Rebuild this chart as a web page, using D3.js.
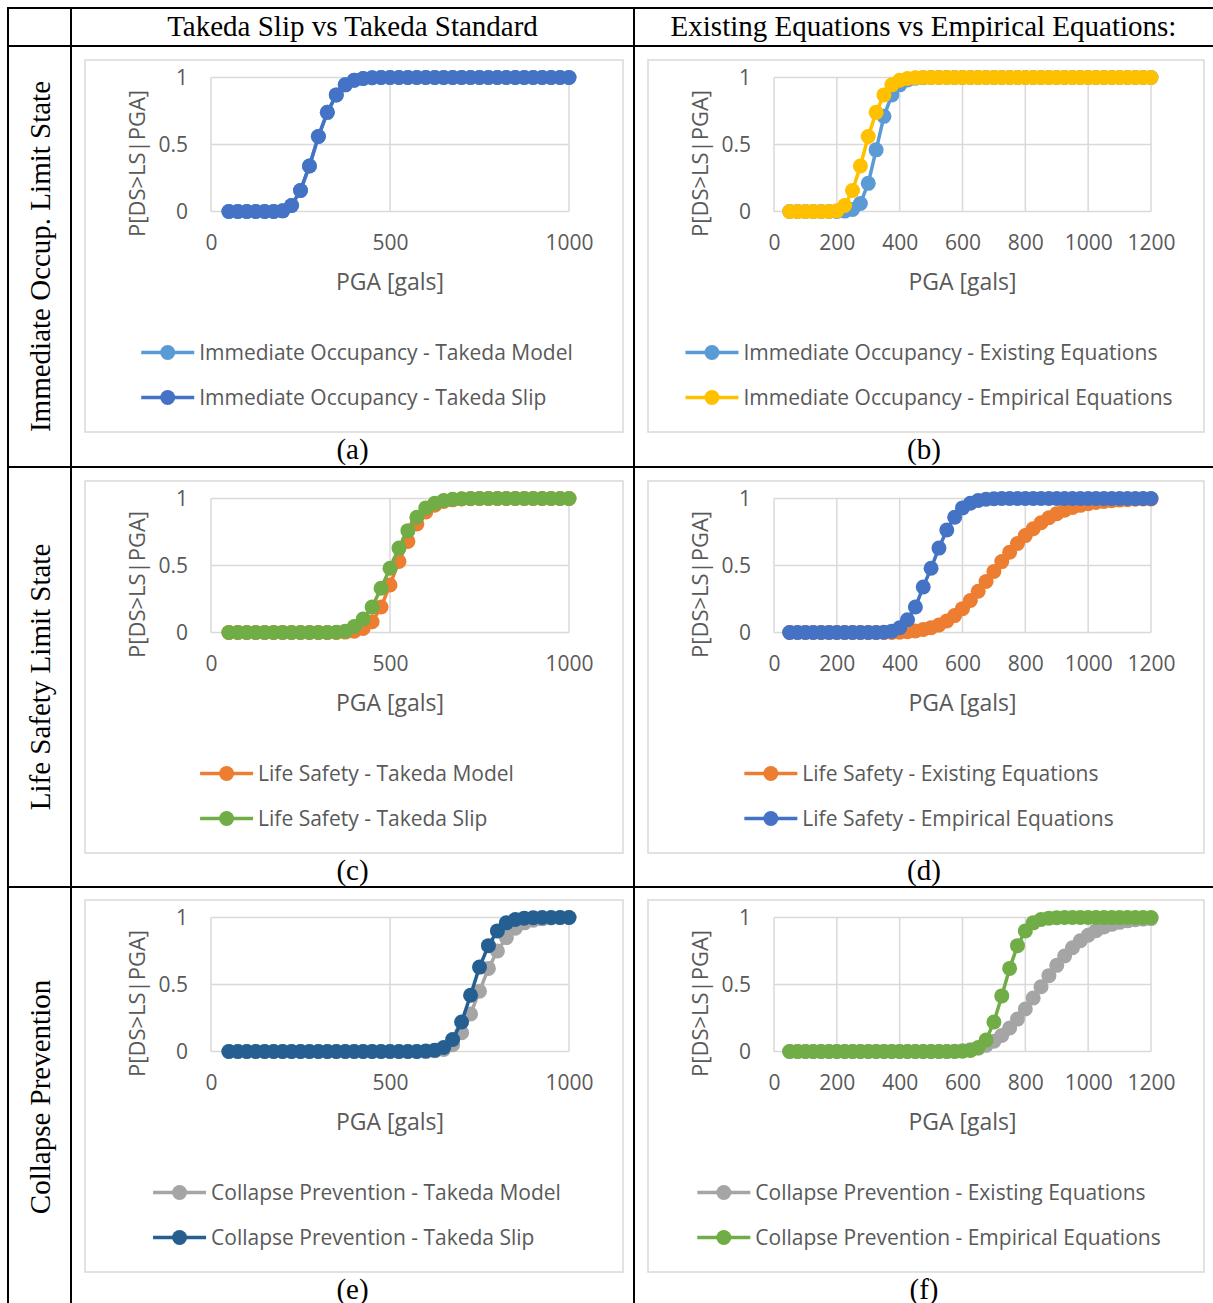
<!DOCTYPE html>
<html>
<head>
<meta charset="utf-8">
<script src="https://cdn.jsdelivr.net/npm/d3@7"></script>
<style>
  body { margin: 0; background: #fff; }
  svg { display: block; }
</style>
</head>
<body>
<svg id="fig" width="1213" height="1303"></svg>
<script>
// PGA sample points [gals]
const pga1000 = [50,75,100,125,150,175,200,225,250,275,300,325,350,375,400,425,450,475,500,525,550,575,600,625,650,675,700,725,750,775,800,825,850,875,900,925,950,975,1000];
const pga1200 = [50,75,100,125,150,175,200,225,250,275,300,325,350,375,400,425,450,475,500,525,550,575,600,625,650,675,700,725,750,775,800,825,850,875,900,925,950,975,1000,1025,1050,1075,1100,1125,1150,1175,1200];

// Immediate Occupancy
const ioTakedaModel = [0,0,0,0,0,0,0.005,0.045,0.157,0.34,0.56,0.74,0.87,0.945,0.98,0.993,0.998,1,1,1,1,1,1,1,1,1,1,1,1,1,1,1,1,1,1,1,1,1,1];
const ioTakedaSlip  = [0,0,0,0,0,0,0.005,0.045,0.157,0.34,0.56,0.74,0.87,0.945,0.98,0.993,0.998,1,1,1,1,1,1,1,1,1,1,1,1,1,1,1,1,1,1,1,1,1,1];
const ioExisting    = [0,0,0,0,0,0,0,0.003,0.015,0.06,0.21,0.46,0.71,0.87,0.945,0.982,0.995,0.999,1,1,1,1,1,1,1,1,1,1,1,1,1,1,1,1,1,1,1,1,1,1,1,1,1,1,1,1,1];
const ioEmpirical   = [0,0,0,0,0,0,0.005,0.045,0.157,0.34,0.56,0.74,0.87,0.945,0.98,0.993,0.998,1,1,1,1,1,1,1,1,1,1,1,1,1,1,1,1,1,1,1,1,1,1,1,1,1,1,1,1,1,1];

// Life Safety
const lsTakedaModel = [0,0,0,0,0,0,0,0,0,0,0,0,0,0.003,0.01,0.03,0.08,0.19,0.355,0.53,0.68,0.81,0.9,0.95,0.978,0.99,0.996,0.999,1,1,1,1,1,1,1,1,1,1,1];
const lsTakedaSlip  = [0,0,0,0,0,0,0,0,0,0,0,0,0.002,0.01,0.045,0.1,0.19,0.33,0.48,0.63,0.76,0.86,0.93,0.965,0.985,0.994,0.998,1,1,1,1,1,1,1,1,1,1,1,1];
const lsExisting    = [0,0,0,0,0,0,0,0,0,0,0,0,0,0,0.002,0.006,0.012,0.022,0.036,0.056,0.086,0.126,0.178,0.239,0.308,0.381,0.455,0.529,0.599,0.664,0.723,0.774,0.819,0.856,0.887,0.912,0.933,0.949,0.961,0.971,0.978,0.984,0.988,0.991,0.994,0.996,0.997];
const lsEmpirical   = [0,0,0,0,0,0,0,0,0,0,0,0,0.002,0.01,0.035,0.095,0.19,0.34,0.48,0.63,0.765,0.86,0.93,0.965,0.985,0.994,0.998,1,1,1,1,1,1,1,1,1,1,1,1,1,1,1,1,1,1,1,1];

// Collapse Prevention
const cpTakedaModel = [0,0,0,0,0,0,0,0,0,0,0,0,0,0,0,0,0,0,0,0,0,0,0,0.005,0.015,0.05,0.14,0.28,0.45,0.62,0.75,0.85,0.92,0.96,0.98,0.99,0.996,0.999,1];
const cpTakedaSlip  = [0,0,0,0,0,0,0,0,0,0,0,0,0,0,0,0,0,0,0,0,0,0,0.003,0.01,0.03,0.09,0.22,0.42,0.63,0.79,0.9,0.96,0.985,0.995,0.999,1,1,1,1];
const cpExisting    = [0,0,0,0,0,0,0,0,0,0,0,0,0,0,0,0,0,0,0,0,0,0.002,0.006,0.013,0.025,0.046,0.077,0.119,0.175,0.242,0.317,0.399,0.483,0.566,0.643,0.713,0.774,0.826,0.868,0.902,0.929,0.949,0.964,0.975,0.983,0.988,0.992];
const cpEmpirical   = [0,0,0,0,0,0,0,0,0,0,0,0,0,0,0,0,0,0,0,0,0,0,0.002,0.008,0.03,0.085,0.22,0.415,0.62,0.79,0.9,0.96,0.985,0.995,0.999,1,1,1,1,1,1,1,1,1,1,1,1];

// Axis ticks
const xTicks1000 = [0, 500, 1000];
const xTicks1200 = [0, 200, 400, 600, 800, 1000, 1200];
const yTicks = [0, 0.5, 1];

// Table text
const columnTitles = ["Takeda Slip vs Takeda Standard", "Existing Equations vs Empirical Equations:"];
const rowTitles = ["Immediate Occup. Limit State", "Life Safety Limit State", "Collapse Prevention"];
const panelTags = ["(a)", "(b)", "(c)", "(d)", "(e)", "(f)"];

const svg = d3.select("#fig");
const SERIF = "'Liberation Serif', 'Times New Roman', serif";
const SANS = "'Open Sans', 'Noto Sans', sans-serif";
const TXT = "#595959";
const GRID = "#D9D9D9";
const MARK_R = 7.5;

// ---- table frame ----
const colX = [8, 71, 634, 1213];
const rowY = [8, 46, 467, 887, 1310];
const frame = svg.append("g").attr("stroke", "#000").attr("stroke-width", 2);
[8, 71, 634].forEach(x => frame.append("line").attr("x1", x).attr("x2", x).attr("y1", 7).attr("y2", 1310));
[8, 46, 467, 887].forEach(y => frame.append("line").attr("x1", 7).attr("x2", 1220).attr("y1", y).attr("y2", y));

columnTitles.forEach((t, i) => {
  svg.append("text")
    .attr("x", (colX[i + 1] + colX[i + 2]) / 2).attr("y", 36)
    .attr("text-anchor", "middle")
    .style("font-family", SERIF).style("font-size", "29px").attr("fill", "#000")
    .text(t);
});
rowTitles.forEach((t, i) => {
  const cy = (rowY[i + 1] + rowY[i + 2]) / 2;
  const yy = i === 2 ? 1097 : cy;
  svg.append("text")
    .attr("transform", `translate(50,${yy}) rotate(-90)`)
    .attr("text-anchor", "middle")
    .style("font-family", SERIF).style("font-size", "29px").attr("fill", "#000")
    .text(t);
});

// ---- one chart panel ----
function drawPanel(cfg) {
  const g = svg.append("g");
  const { bx0, by0, bx1, by1 } = cfg.box;
  g.append("rect").attr("x", bx0).attr("y", by0).attr("width", bx1 - bx0).attr("height", by1 - by0)
    .attr("fill", "#fff").attr("stroke", GRID).attr("stroke-width", 1.5);

  const x = d3.scaleLinear().domain([0, cfg.xMax]).range([cfg.left, cfg.right]);
  const y = d3.scaleLinear().domain([0, 1]).range([cfg.bottom, cfg.top]);

  // gridlines
  g.append("g").selectAll("line").data(cfg.xTicks).join("line")
    .attr("x1", d => x(d)).attr("x2", d => x(d)).attr("y1", y(0)).attr("y2", y(1))
    .attr("stroke", GRID).attr("stroke-width", 1.5);
  g.append("g").selectAll("line").data(yTicks).join("line")
    .attr("x1", x(0)).attr("x2", x(cfg.xMax)).attr("y1", d => y(d)).attr("y2", d => y(d))
    .attr("stroke", GRID).attr("stroke-width", 1.5);

  // axes (labels only)
  const ax = g.append("g").attr("transform", `translate(0,${cfg.bottom})`)
    .call(d3.axisBottom(x).tickValues(cfg.xTicks).tickSize(0).tickFormat(d3.format("d")));
  ax.select(".domain").remove();
  ax.selectAll("text").attr("y", 31).attr("dy", "0.35em")
    .style("font-family", SANS).style("font-size", "21px").attr("fill", TXT);

  const ay = g.append("g").attr("transform", `translate(${cfg.left},0)`)
    .call(d3.axisLeft(y).tickValues(yTicks).tickSize(0).tickFormat(d => String(d)));
  ay.select(".domain").remove();
  ay.selectAll("text").attr("x", -23).attr("dy", "0.35em")
    .style("font-family", SANS).style("font-size", "21px").attr("fill", TXT);

  // axis titles
  g.append("text")
    .attr("transform", `translate(${cfg.left - 74},${cfg.top + 86}) rotate(-90)`)
    .attr("text-anchor", "middle").attr("dy", "0.35em")
    .style("font-family", SANS).style("font-size", "22px").attr("fill", TXT)
    .text("P[DS>LS|PGA]");
  g.append("text")
    .attr("x", (cfg.left + cfg.right) / 2).attr("y", cfg.bottom + 70).attr("dy", "0.35em")
    .attr("text-anchor", "middle")
    .style("font-family", SANS).style("font-size", "23px").attr("fill", TXT)
    .text("PGA [gals]");

  // series: line with circular markers, later series drawn on top
  const line = d3.line().x(d => x(d[0])).y(d => y(d[1]));
  cfg.series.forEach(s => {
    const pts = cfg.pga.map((p, i) => [p, s.values[i]]);
    const sg = g.append("g");
    sg.append("path").datum(pts).attr("d", line)
      .attr("fill", "none").attr("stroke", s.color).attr("stroke-width", 3.5).attr("stroke-linejoin", "round");
    sg.selectAll("circle").data(pts).join("circle")
      .attr("cx", d => x(d[0])).attr("cy", d => y(d[1])).attr("r", MARK_R)
      .attr("fill", s.color);
  });

  // legend
  const lg = g.append("g");
  const items = cfg.series.map((s, i) => {
    const it = lg.append("g").attr("transform", `translate(0,${cfg.bottom + 141 + i * 45})`);
    it.append("line").attr("x1", 0).attr("x2", 53).attr("stroke", s.color).attr("stroke-width", 3.5);
    it.append("circle").attr("cx", 26.5).attr("r", MARK_R).attr("fill", s.color);
    const t = it.append("text").attr("x", 58).attr("dy", "0.35em")
      .style("font-family", SANS).style("font-size", "21px").attr("fill", TXT)
      .text(s.name);
    return { it, w: 58 + t.node().getComputedTextLength() };
  });
  const bw = d3.max(items, d => d.w);
  const lx = (bx0 + bx1) / 2 + 3 - bw / 2;
  lg.attr("transform", `translate(${lx},0)`);

  // panel tag
  svg.append("text")
    .attr("x", cfg.tagX).attr("y", cfg.tagY)
    .attr("text-anchor", "middle")
    .style("font-family", SERIF).style("font-size", "29px").attr("fill", "#000")
    .text(cfg.tag);
}

const leftCol = { box: { bx0: 85, bx1: 623 }, left: 211, right: 569, xMax: 1000, xTicks: xTicks1000, pga: pga1000, tagX: 352.5 };
const rightCol = { box: { bx0: 648, bx1: 1204 }, left: 774, right: 1151, xMax: 1200, xTicks: xTicks1200, pga: pga1200, tagX: 924 };
const rows = [
  { by0: 60, by1: 432, top: 77.5, bottom: 211.5, tagY: 459 },
  { by0: 481, by1: 853, top: 498.5, bottom: 632.5, tagY: 880 },
  { by0: 900, by1: 1272, top: 917.5, bottom: 1051.5, tagY: 1299 }
];

const panelSeries = [
  [{ name: "Immediate Occupancy - Takeda Model", values: ioTakedaModel, color: "#5B9BD5" },
   { name: "Immediate Occupancy - Takeda Slip", values: ioTakedaSlip, color: "#4472C4" }],
  [{ name: "Immediate Occupancy - Existing Equations", values: ioExisting, color: "#5B9BD5" },
   { name: "Immediate Occupancy - Empirical Equations", values: ioEmpirical, color: "#FFC000" }],
  [{ name: "Life Safety - Takeda Model", values: lsTakedaModel, color: "#ED7D31" },
   { name: "Life Safety - Takeda Slip", values: lsTakedaSlip, color: "#70AD47" }],
  [{ name: "Life Safety - Existing Equations", values: lsExisting, color: "#ED7D31" },
   { name: "Life Safety - Empirical Equations", values: lsEmpirical, color: "#4472C4" }],
  [{ name: "Collapse Prevention - Takeda Model", values: cpTakedaModel, color: "#A5A5A5" },
   { name: "Collapse Prevention - Takeda Slip", values: cpTakedaSlip, color: "#255E91" }],
  [{ name: "Collapse Prevention - Existing Equations", values: cpExisting, color: "#A5A5A5" },
   { name: "Collapse Prevention - Empirical Equations", values: cpEmpirical, color: "#70AD47" }]
];

rows.forEach((r, ri) => {
  [leftCol, rightCol].forEach((c, ci) => {
    const idx = ri * 2 + ci;
    drawPanel({
      box: { bx0: c.box.bx0, bx1: c.box.bx1, by0: r.by0, by1: r.by1 },
      left: c.left, right: c.right, top: r.top, bottom: r.bottom,
      xMax: c.xMax, xTicks: c.xTicks, pga: c.pga,
      series: panelSeries[idx],
      tag: panelTags[idx], tagX: c.tagX, tagY: r.tagY
    });
  });
});
</script>
</body>
</html>
